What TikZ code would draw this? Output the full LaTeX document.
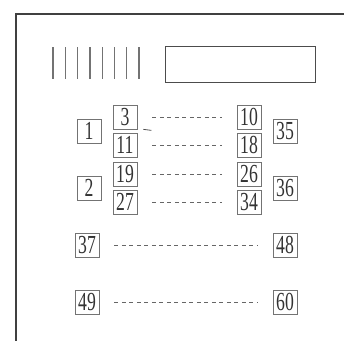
\documentclass[tikz,border=0pt]{standalone}
\usepackage{fontspec}
\usepackage{graphicx}
\setmainfont{Liberation Serif}
\usetikzlibrary{calc}

\newcommand{\cnum}[1]{\scalebox{0.68}[1]{#1}}

\begin{document}
\begin{tikzpicture}[x=1pt,y=-1pt,
    numbox/.style={draw=black!55, line width=0.7pt, inner sep=0pt,
      minimum width=24pt, minimum height=24pt, text=black!80,
      font=\fontsize{26}{26}\selectfont},
    dots/.style={draw=black!60, line width=0.6pt,
      dash pattern=on 4pt off 3.5pt, shorten <=15pt, shorten >=15pt}]
  \useasboundingbox (0,0) rectangle (344,341);
  % frame
  \draw[black!75, line width=1.8pt] (344,14) -- (16,14) -- (16,341);
  % bars and empty field
  \foreach \i in {0,...,7}
    \draw[black!55, line width=1.3pt] (53+12.3*\i,47) -- (53+12.3*\i,79);
  \draw[black!70, line width=1pt] (165,46) rectangle (315,82);
  % rows 3..34
  \foreach \a/\b/\y in {3/10/117, 11/18/145, 19/26/174, 27/34/202} {
    \node[numbox] (n\a) at (125,\y) {\cnum{\a}};
    \node[numbox] (n\b) at (249,\y) {\cnum{\b}};
    \draw[dots] (n\a) -- (n\b);
  }
  \node[numbox] (n1) at (89,131) {\cnum{1}};
  \node[numbox] (n2) at (89,188) {\cnum{2}};
  \node[numbox] (n35) at (285,131) {\cnum{35}};
  \node[numbox] (n36) at (285,188) {\cnum{36}};
  \draw[black!70, line width=0.8pt] ($(n3.south east)+(6,0)$) -- +(8,1);
  % long rows
  \foreach \a/\b/\y in {37/48/245, 49/60/302} {
    \node[numbox] (n\a) at (87,\y) {\cnum{\a}};
    \node[numbox] (n\b) at (285,\y) {\cnum{\b}};
    \draw[dots] (n\a) -- (n\b);
  }
\end{tikzpicture}
\end{document}
